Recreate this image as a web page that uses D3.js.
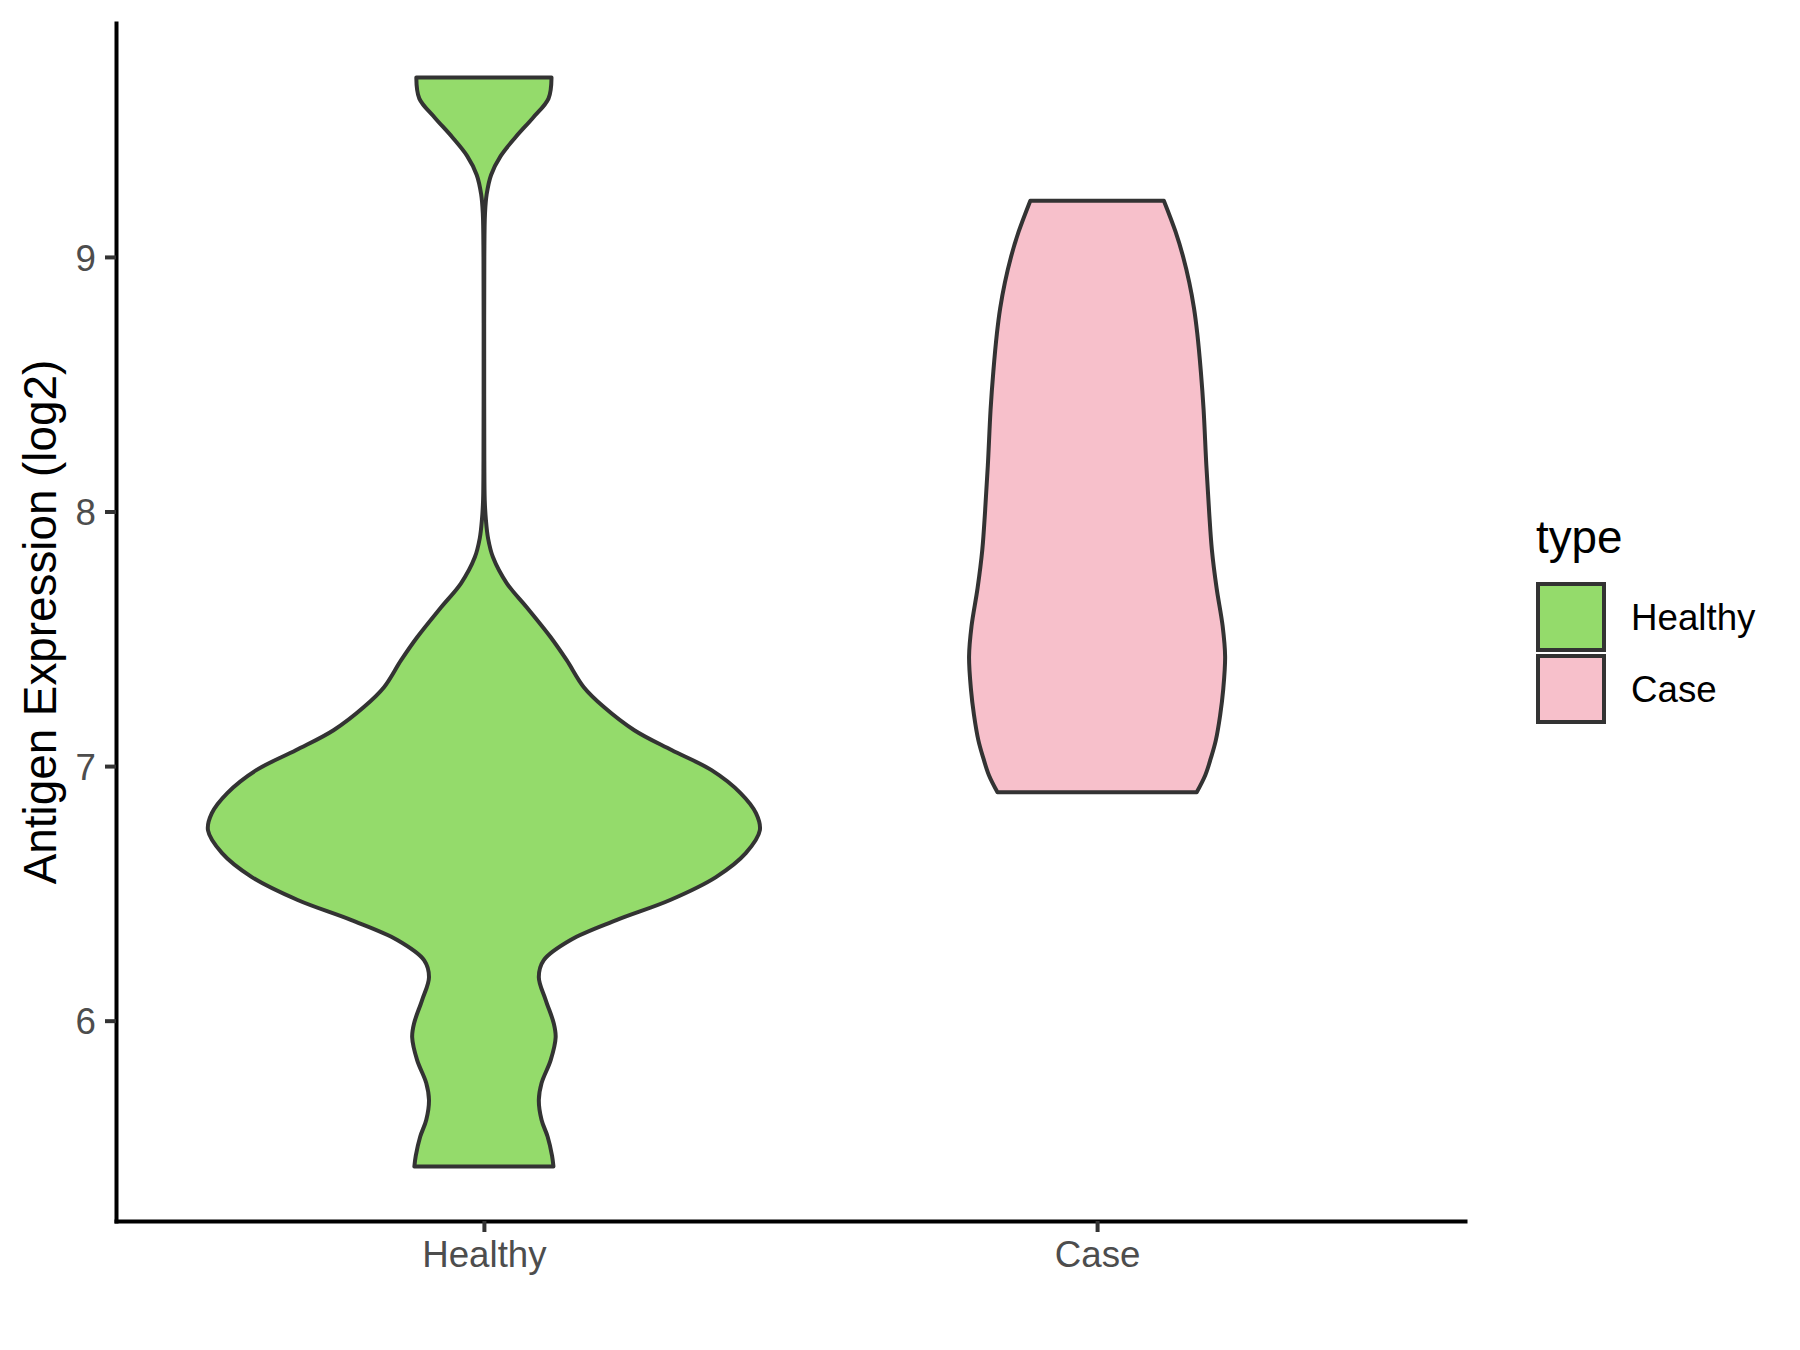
<!DOCTYPE html>
<html>
<head>
  <meta charset="utf-8">
  <style>
    body { margin: 0; background: #fff; }
    text { font-family: "Liberation Sans", Arial, sans-serif; }
  </style>
</head>
<body>
  <svg width="1800" height="1350"></svg>
<script src="https://cdnjs.cloudflare.com/ajax/libs/d3/7.8.5/d3.min.js"></script>
<script>

// groups on the x axis
var categories = ["Healthy", "Case"];
var fills = ["#94DB6B", "#F7C0CB"];
var yTicks = [6, 7, 8, 9];

// violin outlines:
// expression value (log2) and relative width (1 = widest violin)
var healthyValues = [5.427, 5.469, 5.544, 5.610, 5.688, 5.755, 5.845, 5.935, 5.990, 6.081,
  6.171, 6.238, 6.317, 6.395, 6.474, 6.564, 6.658, 6.748, 6.815, 6.894,
  6.984, 7.063, 7.141, 7.232, 7.310, 7.416, 7.506, 7.624, 7.718, 7.820,
  7.895, 7.970, 8.044, 8.200, 8.600, 9.000, 9.172, 9.246, 9.322, 9.397,
  9.472, 9.547, 9.622, 9.705];
var healthyWidths = [0.252, 0.247, 0.231, 0.209, 0.199, 0.209, 0.242, 0.260, 0.253, 0.224,
  0.199, 0.217, 0.314, 0.480, 0.675, 0.841, 0.949, 1.000, 0.986, 0.930,
  0.825, 0.680, 0.545, 0.435, 0.362, 0.300, 0.242, 0.155, 0.083, 0.033,
  0.015, 0.007, 0.003, 0.0015, 0.001, 0.0015, 0.004, 0.010, 0.026, 0.061,
  0.116, 0.178, 0.234, 0.245];

var caseValues = [6.897, 6.964, 7.030, 7.100, 7.200, 7.300, 7.430, 7.550, 7.700, 7.850,
  8.000, 8.180, 8.400, 8.550, 8.700, 8.800, 8.900, 9.000, 9.100, 9.221];
var caseWidths = [0.361, 0.392, 0.412, 0.430, 0.446, 0.457, 0.464, 0.455, 0.433, 0.416,
  0.406, 0.396, 0.386, 0.376, 0.363, 0.351, 0.334, 0.312, 0.284, 0.242];

var svg = d3.select("svg");

var panelLeft = 116, panelRight = 1465, panelTop = 23, panelBottom = 1221;

var x = d3.scalePoint().domain(categories).range([panelLeft, panelRight]).padding(0.6);

var all = healthyValues.concat(caseValues);
var lo = d3.min(all), hi = d3.max(all), pad = (hi - lo) * 0.05;
var y = d3.scaleLinear().domain([lo - pad, hi + pad]).range([panelBottom, panelTop]);

// widest violin takes 0.9 of the spacing between groups
var w = d3.scaleLinear().domain([0, 1]).range([0, x.step() * 0.45]);

var color = d3.scaleOrdinal().domain(categories).range(fills);

var violins = [
  { type: "Healthy", pts: healthyValues.map(function(v, i) { return { v: v, r: healthyWidths[i] }; }) },
  { type: "Case", pts: caseValues.map(function(v, i) { return { v: v, r: caseWidths[i] }; }) }
];

svg.append("g").selectAll("path")
  .data(violins)
  .enter().append("path")
  .attr("d", function(d) {
    var cx = x(d.type);
    return d3.area()
      .y(function(p) { return y(p.v); })
      .x0(function(p) { return cx - w(p.r); })
      .x1(function(p) { return cx + w(p.r); })
      .curve(d3.curveCatmullRom.alpha(0.5))(d.pts);
  })
  .attr("fill", function(d) { return color(d.type); })
  .attr("stroke", "#333333")
  .attr("stroke-width", 4)
  .attr("stroke-linejoin", "round");

// axes
var yAxis = svg.append("g")
  .attr("transform", "translate(" + panelLeft + ",0)")
  .call(d3.axisLeft(y).tickValues(yTicks).tickFormat(d3.format("d")).tickSize(11).tickSizeOuter(0).tickPadding(9));

var xAxis = svg.append("g")
  .attr("transform", "translate(0," + panelBottom + ")")
  .call(d3.axisBottom(x).tickSize(11).tickSizeOuter(0).tickPadding(9));

svg.selectAll(".domain").attr("stroke", "#000").attr("stroke-width", 4).attr("stroke-linecap", "square");
svg.selectAll(".tick line").attr("stroke", "#333333").attr("stroke-width", 4);
svg.selectAll(".tick text")
  .attr("fill", "#4D4D4D")
  .style("font-size", "36.7px")
  .style("font-family", "'Liberation Sans', Arial, sans-serif");
yAxis.selectAll(".tick text").attr("dy", "0.36em");
xAxis.selectAll(".tick text").attr("dy", "0.72em");

svg.append("text")
  .attr("transform", "translate(56," + ((panelTop + panelBottom) / 2) + ") rotate(-90)")
  .attr("text-anchor", "middle")
  .style("font-size", "45.8px")
  .text("Antigen Expression (log2)");

// legend
var legend = svg.append("g").attr("transform", "translate(1536,0)");

legend.append("text")
  .attr("x", 0).attr("y", 553)
  .style("font-size", "45.8px")
  .text("type");

var keys = legend.selectAll(".key")
  .data(categories)
  .enter().append("g")
  .attr("class", "key")
  .attr("transform", function(d, i) { return "translate(0," + (584 + i * 72) + ")"; });

keys.append("rect")
  .attr("x", 2).attr("y", 0)
  .attr("width", 66).attr("height", 66)
  .attr("fill", function(d) { return color(d); })
  .attr("stroke", "#333333")
  .attr("stroke-width", 4);

keys.append("text")
  .attr("x", 95).attr("y", 33)
  .attr("dy", "0.36em")
  .style("font-size", "36.7px")
  .text(function(d) { return d; });

</script>
</body>
</html>
